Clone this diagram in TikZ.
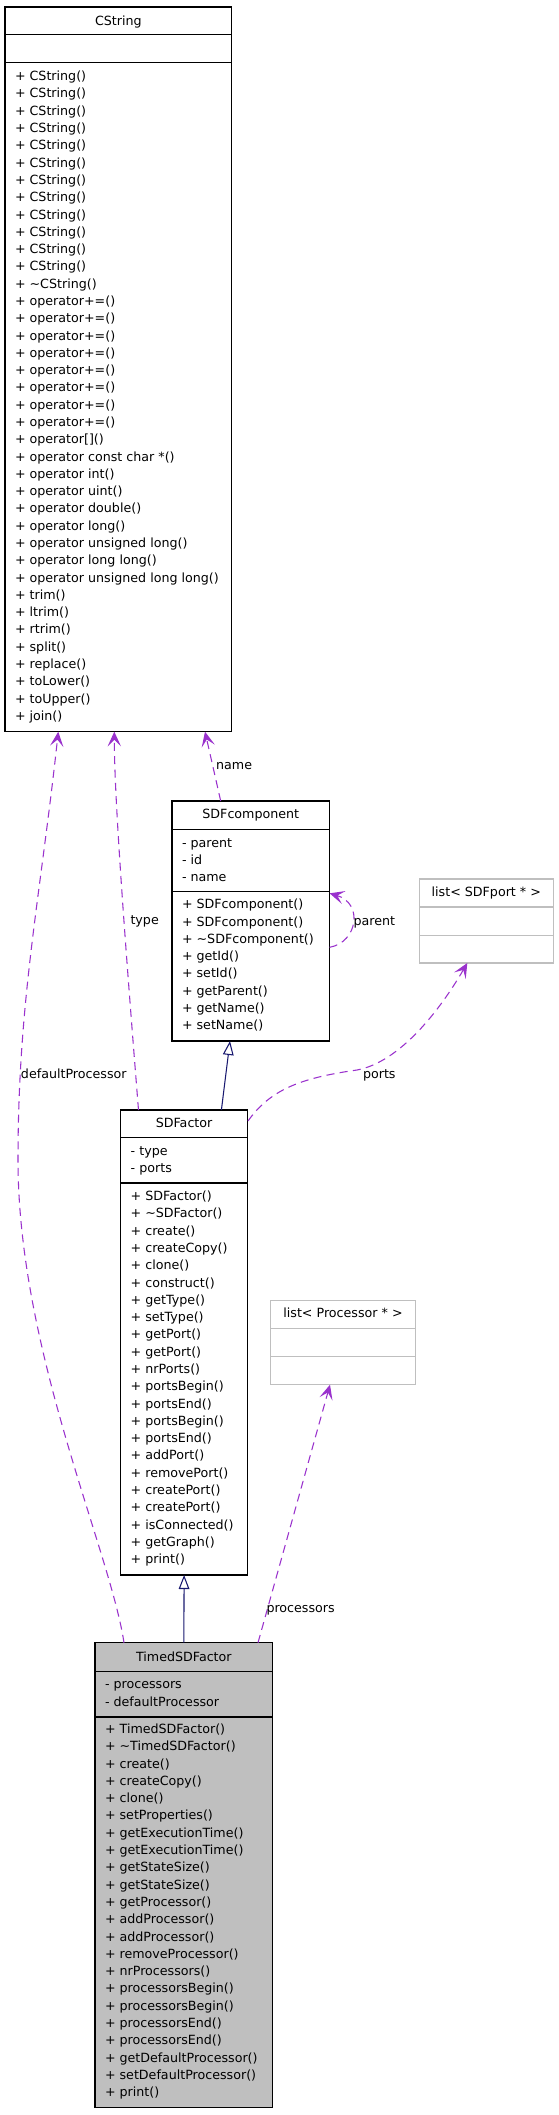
\documentclass[tikz,border=0pt]{standalone}
\usepackage{fontspec}
\setmainfont{DejaVu Sans}
\usetikzlibrary{arrows.meta,calc,fit}
\definecolor{usecol}{HTML}{9A32CD}
\definecolor{inhcol}{HTML}{191970}
\definecolor{greyset}{HTML}{BFBFBF}
\newcommand\members[4]{%
  \foreach \t [count=\i] in {#4} {\node[txt, anchor=base west] (#1\i) at (#2,{#3+(\i-1)*17.29}) {\t};}}
\begin{document}
\begin{tikzpicture}[x=0.75pt,y=-0.75pt,
  box/.style={draw=black, line width=1pt, inner sep=0pt, outer sep=0pt},
  tbox/.style={draw=greyset, line width=1pt, inner sep=0pt, outer sep=0pt},
  sepline/.style={draw=black, line width=1pt},
  tsep/.style={draw=greyset, line width=1pt},
  txt/.style={inner sep=0pt, outer sep=0pt, font=\fontsize{9.5pt}{12pt}\selectfont},
  inh/.style={draw=inhcol, line width=0.8pt, -{Triangle[fill=white, length=10.5pt, width=8pt]}},
  use/.style={draw=usecol, line width=0.8pt, dash pattern=on 6pt off 4pt, -{Stealth[length=11pt, width=10pt, inset=5pt]}},
  lbl/.style={txt, anchor=base west}
]
\fill[white] (0,0) rectangle (559,2115);
\useasboundingbox (0,0) rectangle (559,2115);

% ---------- CString ----------
\node[box, fit={(5,7) (231.7,731.7)}] (cs) {};
\draw[sepline] ($(cs.north west)+(0,27.5)$) -- ($(cs.north east)+(0,27.5)$);
\draw[sepline] ($(cs.north west)+(0,55.5)$) -- ($(cs.north east)+(0,55.5)$);
\node[txt, anchor=base] (csh) at (118.35,25.3) {CString};
\members{csm}{15}{80.7}{+ CString(),+ CString(),+ CString(),+ CString(),+ CString(),+ CString(),+ CString(),+ CString(),+ CString(),+ CString(),+ CString(),+ CString(),+ \textasciitilde CString(),+ operator+=(),+ operator+=(),+ operator+=(),+ operator+=(),+ operator+=(),+ operator+=(),+ operator+=(),+ operator+=(),{+ operator[]()},+ operator const char *(),+ operator int(),+ operator uint(),+ operator double(),+ operator long(),+ operator unsigned long(),+ operator long long(),+ operator unsigned long long(),+ trim(),+ ltrim(),+ rtrim(),+ split(),+ replace(),+ toLower(),+ toUpper(),+ join()}

% ---------- SDFcomponent ----------
\node[box, fit={(172,801) (329.6,1041)}] (sdfc) {};
\draw[sepline] ($(sdfc.north west)+(0,28.3)$) -- ($(sdfc.north east)+(0,28.3)$);
\draw[sepline] ($(sdfc.north west)+(0,90.7)$) -- ($(sdfc.north east)+(0,90.7)$);
\node[txt, anchor=base] (sdfch) at (250.8,818.8) {SDFcomponent};
\members{sdfca}{182}{847}{- parent,- id,- name}
\members{sdfcm}{182}{908.8}{+ SDFcomponent(),+ SDFcomponent(),+ \textasciitilde SDFcomponent(),+ getId(),+ setId(),+ getParent(),+ getName(),+ setName()}

% ---------- list< SDFport * > ----------
\node[tbox, fit={(419.3,879) (553.3,963)}] (lsp) {};
\draw[tsep] ($(lsp.north west)+(0,28)$) -- ($(lsp.north east)+(0,28)$);
\draw[tsep] ($(lsp.north west)+(0,56.3)$) -- ($(lsp.north east)+(0,56.3)$);
\node[txt, anchor=base] (lsph) at (486.3,896.8) {list< SDFport * >};

% ---------- SDFactor ----------
\node[box, fit={(120.7,1110) (247.5,1575)}] (sdfa) {};
\draw[sepline] ($(sdfa.north west)+(0,27.7)$) -- ($(sdfa.north east)+(0,27.7)$);
\draw[sepline] ($(sdfa.north west)+(0,73)$) -- ($(sdfa.north east)+(0,73)$);
\node[txt, anchor=base] (sdfah) at (184.1,1127.2) {SDFactor};
\members{sdfaa}{130.7}{1155.5}{- type,- ports}
\members{sdfam}{130.7}{1200.6}{+ SDFactor(),+ \textasciitilde SDFactor(),+ create(),+ createCopy(),+ clone(),+ construct(),+ getType(),+ setType(),+ getPort(),+ getPort(),+ nrPorts(),+ portsBegin(),+ portsEnd(),+ portsBegin(),+ portsEnd(),+ addPort(),+ removePort(),+ createPort(),+ createPort(),+ isConnected(),+ getGraph(),+ print()}

% ---------- list< Processor * > ----------
\node[tbox, fit={(270.7,1300.7) (415.4,1384.7)}] (lp) {};
\draw[tsep] ($(lp.north west)+(0,27.6)$) -- ($(lp.north east)+(0,27.6)$);
\draw[tsep] ($(lp.north west)+(0,56)$) -- ($(lp.north east)+(0,56)$);
\node[txt, anchor=base] (lph) at (343,1317.8) {list< Processor * >};

% ---------- TimedSDFactor ----------
\node[box, fill=greyset, fit={(95,1642.7) (272.7,2107.3)}] (tsa) {};
\draw[sepline] ($(tsa.north west)+(0,29)$) -- ($(tsa.north east)+(0,29)$);
\draw[sepline] ($(tsa.north west)+(0,74.3)$) -- ($(tsa.north east)+(0,74.3)$);
\node[txt, anchor=base] (tsah) at (183.85,1661.2) {TimedSDFactor};
\members{tsaa}{105}{1688.8}{- processors,- defaultProcessor}
\members{tsam}{105}{1733.5}{+ TimedSDFactor(),+ \textasciitilde TimedSDFactor(),+ create(),+ createCopy(),+ clone(),+ setProperties(),+ getExecutionTime(),+ getExecutionTime(),+ getStateSize(),+ getStateSize(),+ getProcessor(),+ addProcessor(),+ addProcessor(),+ removeProcessor(),+ nrProcessors(),+ processorsBegin(),+ processorsBegin(),+ processorsEnd(),+ processorsEnd(),+ getDefaultProcessor(),+ setDefaultProcessor(),+ print()}

% ---------- inheritance ----------
\draw[inh] ($(sdfa.north west)+(100.7,0)$) -- ($(sdfc.south west)+(58,0)$);
\draw[inh] (tsa.north) -- (sdfa.south);

% ---------- usage ----------
\coordinate (dpbend) at (18,1160);
\coordinate (portsbend) at (357,1070);
\draw[use] ($(sdfc.north west)+(48.7,0)$) -- ($(cs.south west)+(200,0)$);
\draw[use] ($(sdfa.north west)+(17.8,0)$) .. controls +(-12,-150) and +(0,70) .. ($(cs.south west)+(109.3,0)$);
\draw[use] ($(tsa.north west)+(29,0)$) .. controls (110,1550) and (18,1350) .. (dpbend) .. controls (18,1000) and (40,900) .. ($(cs.south west)+(53.3,0)$);
\draw[use] ($(sdfa.north east)+(0.5,11)$) .. controls (270,1090) and (300,1078) .. (portsbend) .. controls (400,1062) and (440,1010) .. ($(lsp.south west)+(48,0)$);
\draw[use] ($(sdfc.north east)+(0,146.3)$) .. controls +(28,-5) and +(34,10) .. ($(sdfc.north east)+(0,92.3)$);
\draw[use] ($(tsa.north west)+(163,0)$) -- ($(lp.south west)+(59.3,0)$);

% ---------- labels ----------
\node[lbl] (lname) at (216.2,769.2) {name};
\node[lbl] (ltype) at (130.5,924.2) {type};
\node[lbl] (lparent) at (353.5,925.2) {parent};
\node[lbl] (lports) at (363,1078.5) {ports};
\node[lbl] (ldef) at (21,1078) {defaultProcessor};
\node[lbl] (lproc) at (266.5,1612.3) {processors};
\end{tikzpicture}
\end{document}
